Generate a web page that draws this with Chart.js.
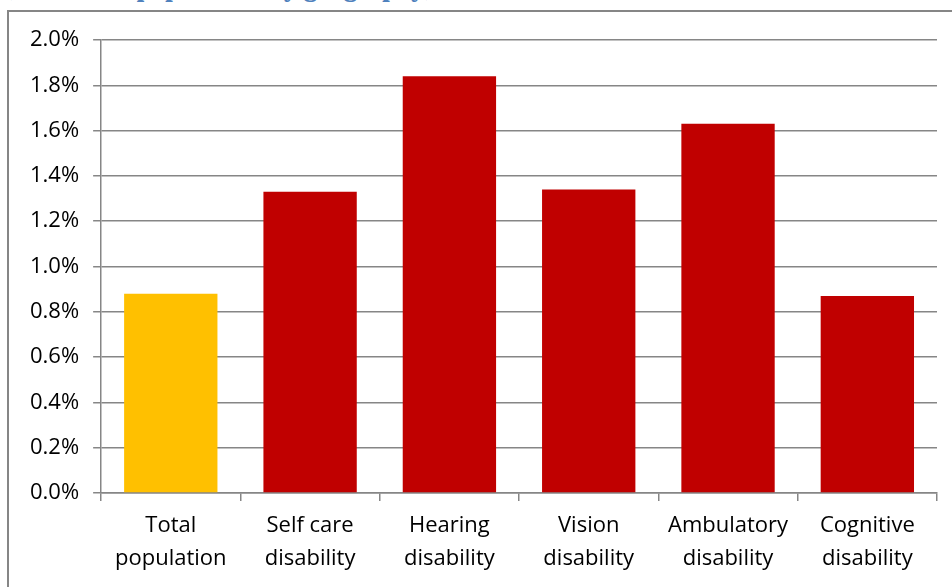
<!DOCTYPE html>
<html>
<head>
<meta charset="utf-8">
<script src="https://cdn.jsdelivr.net/npm/chart.js@4/dist/chart.umd.min.js"></script>
<style>
  html, body { margin: 0; padding: 0; background: #fff; }
  body { width: 952px; height: 587px; position: relative; overflow: hidden; }
  .title {
    position: absolute; left: 2px; top: -28px;
    font: bold 26px Cambria, "DejaVu Serif", serif; color: #4f81bd;
    white-space: nowrap; line-height: 32px;
  }
  .frame {
    position: absolute; left: 7px; top: 10px; width: 960px; height: 600px;
    border: 2px solid #868686; box-sizing: border-box;
  }
  .wrap { position: absolute; left: 0; top: 0; width: 952px; height: 587px; }
</style>
</head>
<body>
<div class="title">(Percent of population by geography)</div>
<div class="frame"></div>
<div class="wrap"><canvas id="chart"></canvas></div>
<script>
const categories = [
  ["Total", "population"],
  ["Self care", "disability"],
  ["Hearing", "disability"],
  ["Vision", "disability"],
  ["Ambulatory", "disability"],
  ["Cognitive", "disability"]
];
const values = [0.88, 1.33, 1.84, 1.34, 1.63, 0.87];
const barColors = ["#FFC000", "#C00000", "#C00000", "#C00000", "#C00000", "#C00000"];
const yTicks = [0, 0.2, 0.4, 0.6, 0.8, 1.0, 1.2, 1.4, 1.6, 1.8, 2.0];

const font = { family: "'Open Sans', Lato, sans-serif", size: 22 };
const gridColor = "#868686";

new Chart(document.getElementById("chart").getContext("2d"), {
  type: "bar",
  data: {
    labels: categories,
    datasets: [{
      data: values,
      backgroundColor: barColors,
      borderWidth: 0,
      barPercentage: 0.67,
      categoryPercentage: 1
    }]
  },
  options: {
    responsive: true,
    maintainAspectRatio: false,
    animation: false,
    layout: { padding: { top: 40, right: 15, left: 16, bottom: 4 } },
    scales: {
      x: {
        grid: {
          offset: true,
          drawOnChartArea: false,
          drawTicks: true,
          tickLength: 8,
          color: gridColor,
          lineWidth: 1.5
        },
        border: { color: gridColor, width: 1.5 },
        ticks: { color: "#000", font: { ...font, lineHeight: 1.5 }, padding: 8, maxRotation: 0 }
      },
      y: {
        min: 0,
        max: 2.0,
        afterBuildTicks: (axis) => { axis.ticks = yTicks.map(v => ({ value: v })); },
        grid: { color: gridColor, lineWidth: 1.5, tickLength: 8 },
        border: { color: gridColor, width: 1.5 },
        ticks: {
          color: "#000",
          font: font,
          padding: 14,
          callback: (v) => v.toFixed(1) + "%"
        }
      }
    },
    plugins: {
      legend: { display: false },
      tooltip: { enabled: false }
    }
  }
});
</script>
</body>
</html>
